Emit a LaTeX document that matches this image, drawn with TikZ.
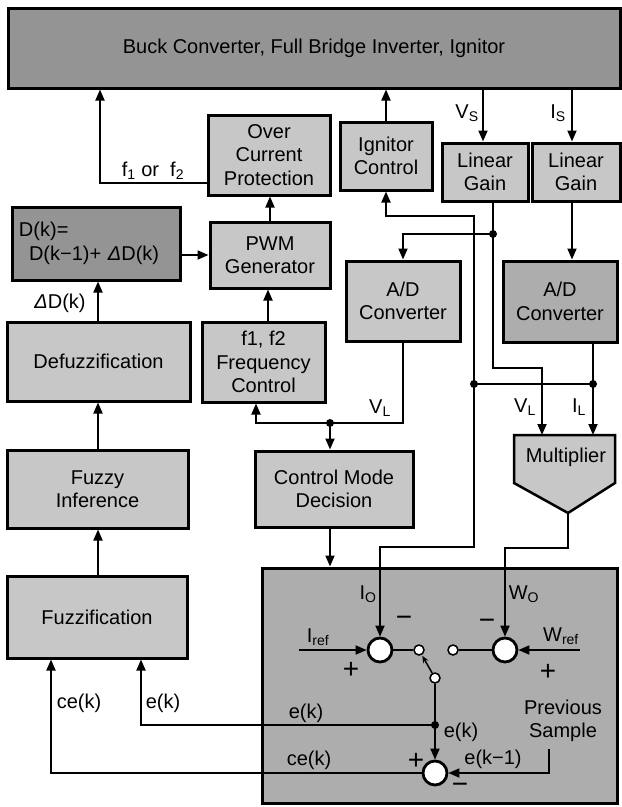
\documentclass[tikz,border=0pt]{standalone}
\usepackage{fontspec}
\setmainfont{Liberation Sans}
\usetikzlibrary{arrows.meta, positioning}

\begin{document}
\begin{tikzpicture}[x=1pt, y=-1pt,
      blk/.style={rectangle, draw, line width=3pt, fill=black!22, inner sep=0pt, align=center, font=\fontsize{20}{23.5}\selectfont},
      darkblk/.style={blk, fill=black!42},
      midblk/.style={blk, fill=black!32},
      sumnode/.style={circle, draw, line width=2.8pt, fill=white, minimum size=24pt, inner sep=0pt},
      contact/.style={circle, draw, line width=1.5pt, fill=white, minimum size=10pt, inner sep=0pt},
      lbl/.style={font=\fontsize{20}{23.5}\selectfont, inner sep=1pt, align=center},
      sgn/.style={font=\fontsize{28}{28}\selectfont, inner sep=0pt},
      arr/.style={-{Triangle[length=11pt, width=9pt]}, line width=1.8pt},
      ln/.style={line width=1.8pt}]
      \useasboundingbox (0,0) rectangle (622,807);
      % blocks
      \node[darkblk, minimum width=612pt, minimum height=80pt] (plant) at (314,48) {Buck Converter, Full Bridge Inverter, Ignitor};
      \node[blk, minimum width=122pt, minimum height=80pt] (ocp) at (269,155) {Over\\Current\\Protection};
      \node[blk, minimum width=92pt, minimum height=68pt] (ign) at (386,156) {Ignitor\\Control};
      \node[blk, minimum width=86pt, minimum height=58pt] (gainv) at (485,172) {Linear\\Gain};
      \node[blk, minimum width=88pt, minimum height=58pt] (gaini) at (576,172) {Linear\\Gain};
      \node[darkblk, minimum width=168pt, minimum height=73pt, text width=154pt, align=left] (duty) at (96,243.5) {D(k)=\\\hspace{0.5em}D(k−1)+ {\itshape Δ}D(k)};
      \node[blk, minimum width=120pt, minimum height=66pt] (pwm) at (270,255) {PWM\\Generator};
      \node[blk, minimum width=114pt, minimum height=80pt] (adv) at (403,301) {A/D\\Converter};
      \node[midblk, minimum width=114pt, minimum height=81pt] (adi) at (560,301.5) {A/D\\Converter};
      \node[blk, minimum width=183pt, minimum height=79pt] (defuz) at (98.5,361.5) {Defuzzification};
      \node[blk, minimum width=123pt, minimum height=80pt] (freq) at (263.5,362) {f1, f2\\Frequency\\Control};
      \node[blk, minimum width=181pt, minimum height=78pt] (infer) at (97.5,489) {Fuzzy\\Inference};
      \node[blk, minimum width=158pt, minimum height=76pt] (mode) at (334,489) {Control Mode\\Decision};
      \node[blk, minimum width=180pt, minimum height=82pt] (fuzz) at (97,617) {Fuzzification};
      \node[midblk, minimum width=355pt, minimum height=235pt] (ctrl) at (439.5,685.5) {};
      % multiplier
      \draw[line width=2.5pt, fill=black!22] (514,435) -- (615,435) -- (615,483) -- (568,513) -- (514,483) -- cycle;
      \node[lbl] (mult) at (566,457) {Multiplier};
      \coordinate (multv) at (542,435);
      \coordinate (multi) at (593,435);
      \coordinate (multout) at (568,513);
      % comparators and switch
      \node[sumnode] (s1) at (380,650) {};
      \node[sumnode] (s2) at (505,650) {};
      \node[sumnode] (s3) at (435,773) {};
      \node[contact] (ca) at (419,650) {};
      \node[contact] (cb) at (453,650) {};
      \node[contact] (cc) at (435,678) {};
      \coordinate (iref) at (299,650);
      \coordinate (wref) at (580,650);
      \coordinate (prev) at (549,749);
      % junctions
      \coordinate (jv) at (493,234);
      \coordinate (ji) at (593,384);
      \coordinate (jo) at (474,384);
      \coordinate (jl) at (330,423);
      \coordinate (je) at (435,725);
      \foreach \j in {jv,ji,jo,jl,je} \fill (\j) circle[radius=4pt];
      % connectors
      \draw[arr] (ocp.west |- 0,183) -| (plant.south -| 100,0);
      \draw[arr] (ign.north) -- (ign.north |- plant.south);
      \draw[arr] (plant.south -| 483,0) -- (gainv.north -| 483,0);
      \draw[arr] (plant.south -| 572,0) -- (gaini.north -| 572,0);
      \draw[arr] (pwm.north) -- (pwm.north |- ocp.south);
      \draw[arr] (duty.east |- pwm) -- (pwm);
      \draw[arr] (defuz.north -| 98,0) -- (duty.south -| 98,0);
      \draw[arr] (freq.north -| 268,0) -- (pwm.south -| 268,0);
      \draw[arr] (infer.north -| 98,0) -- (defuz.south -| 98,0);
      \draw[arr] (fuzz.north -| 98,0) -- (infer.south -| 98,0);
      \draw[ln] (gainv.south -| jv) -- (jv);
      \draw[arr] (jv) -| (adv.north);
      \draw[arr] (jv) -- ++(0,134) -| (multv);
      \draw[arr] (gaini.south -| 572,0) -- (adi.north -| 572,0);
      \draw[ln] (adi.south -| ji) -- (ji);
      \draw[arr] (ji) -- (multi);
      \draw[ln] (ji) -- (jo);
      \draw[arr] (jo) -- (jo |- 0,216) -| (ign.south);
      \draw[arr] (jo) -- (jo |- 0,547) -| (s1.north);
      \draw[ln] (adv.south) -- (adv.south |- jl) -- (jl);
      \draw[arr] (jl) -| (freq.south -| 256,0);
      \draw[arr] (jl) -- (jl |- mode.north);
      \draw[arr] (mode.south -| jl) -- (jl |- ctrl.north);
      \draw[arr] (multout) -- ++(0,35) -| (s2.north);
      \draw[arr] (iref) -- (s1);
      \draw[ln] (s1) -- (ca);
      \draw[ln] (cb) -- (s2);
      \draw[arr] (wref) -- (s2);
      \draw[line width=1.5pt, -{Stealth[length=7pt, width=6pt]}, shorten >=1pt] (cc) -- (ca);
      \draw[ln] (cc) -- (je);
      \draw[arr] (je) -- (s3);
      \draw[arr] (je) -| (fuzz.south -| 141,0);
      \draw[arr] (s3) -| (fuzz.south -| 51,0);
      \draw[arr] (prev) |- (s3);
      % labels
      \node[lbl] (lf) at (153,171) {f\textsubscript{1} or\ \ f\textsubscript{2}};
      \node[lbl] (lvs) at (467,113) {V\textsubscript{S}};
      \node[lbl] (lis) at (558,113) {I\textsubscript{S}};
      \node[lbl] (ldd) at (60,303) {{\itshape Δ}D(k)};
      \node[lbl] (lvl) at (380,408) {V\textsubscript{L}};
      \node[lbl] (lvm) at (525,407) {V\textsubscript{L}};
      \node[lbl] (lil) at (579,407) {I\textsubscript{L}};
      \node[lbl] (lio) at (368,594) {I\textsubscript{O}};
      \node[lbl] (lwo) at (524,594) {W\textsubscript{O}};
      \node[lbl] (lir) at (318,637) {I\textsubscript{ref}};
      \node[lbl] (lwr) at (561,636) {W\textsubscript{ref}};
      \node[sgn] (m1) at (404,621) {−};
      \node[sgn] (p1) at (351,670) {+};
      \node[sgn] (m2) at (487,624) {−};
      \node[sgn] (p2) at (548,672) {+};
      \node[sgn] (p3) at (416,761) {+};
      \node[sgn] (m3) at (460,788) {−};
      \node[lbl] (le1) at (306,713) {e(k)};
      \node[lbl] (le2) at (461,732) {e(k)};
      \node[lbl] (lce) at (309,760) {ce(k)};
      \node[lbl] (lek) at (493,759) {e(k−1)};
      \node[lbl] (lprev) at (563,721) {Previous\\Sample};
      \node[lbl] (lce2) at (79,703) {ce(k)};
      \node[lbl] (le3) at (163,703) {e(k)};
    \end{tikzpicture}
\end{document}
